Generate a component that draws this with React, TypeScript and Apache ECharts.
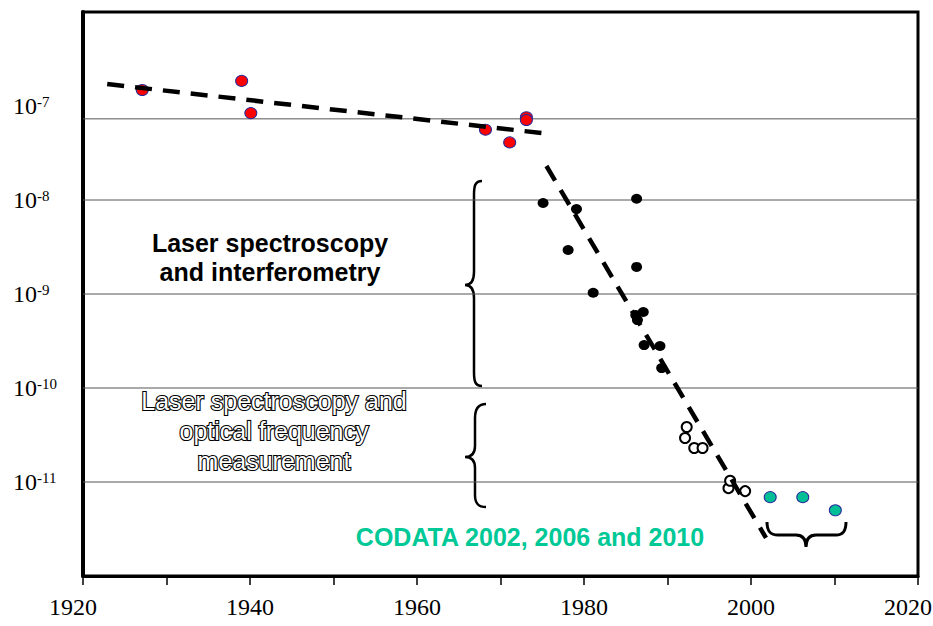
import React, { useEffect, useRef } from "react";
import * as echarts from "echarts";

// ---- data ----
const redYears = [1927.1, 1939.0, 1940.1, 1968.2, 1971.1, 1973.1, 1973.1];
const redValues = [1.48e-7, 1.85e-7, 8.4e-8, 5.6e-8, 4.1e-8, 7.6e-8, 7.1e-8];

const blackYears = [1975.1, 1979.1, 1986.3, 1978.1, 1986.3, 1981.1, 1986.2, 1987.1, 1986.4, 1987.2, 1989.1, 1989.3];
const blackValues = [9.3e-9, 8.0e-9, 1.03e-8, 2.94e-9, 1.94e-9, 1.03e-9, 5.98e-10, 6.44e-10, 5.28e-10, 2.86e-10, 2.8e-10, 1.63e-10];

const openYears = [1992.3, 1992.1, 1993.2, 1994.2, 1997.3, 1997.5, 1999.3];
const openValues = [3.85e-11, 2.94e-11, 2.3e-11, 2.3e-11, 8.6e-12, 1.03e-11, 8.0e-12];

const codataYears = [2002.3, 2006.2, 2010.1];
const codataValues = [6.9e-12, 6.9e-12, 5.0e-12];

const trend1Years = [1922.9, 1974.9];
const trend1Values = [1.71e-7, 5.16e-8];
const trend2Years = [1975.5, 2001.8];
const trend2Values = [2.3e-8, 2.54e-12];

const gridLineValues = [7.3e-8, 1e-8, 1e-9, 1e-10, 1e-11];
const xTickLabels = [1920, 1940, 1960, 1980, 2000, 2020];
const yLabelExponents = [-7, -8, -9, -10, -11];
const xMin = 1920;
const xMax = 2020;

const label1 = "Laser spectroscopy\nand interferometry";
const label2 = "Laser spectroscopy and\noptical frequency\nmeasurement";
const label3 = "CODATA 2002, 2006 and 2010";

// ---- brace shapes ----
const brace1 =
  "M482,181 C475,181 474,186 474,195 L474,272 C474,280 472,285 465,285 C472,285 474,290 474,298 L474,372 C474,381 475,386 482,386";
const brace2 =
  "M486,404 C478,404 475,409 475,418 L475,446 C475,453 472,457 465,457 C472,457 475,461 475,468 L475,495 C475,503 478,507 486,507";
const brace3 =
  "M767,522 C767,531 770,535 778,535 L796,535 C803,535 806,539 806,547 C806,539 809,535 816,535 L836,535 C843,535 846,531 846,522";

let registered = false;
function registerShapes() {
  if (registered) return;
  registered = true;
  echarts.graphic.registerShape("brace1", echarts.graphic.extendPath(brace1, {}));
  echarts.graphic.registerShape("brace2", echarts.graphic.extendPath(brace2, {}));
  echarts.graphic.registerShape("brace3", echarts.graphic.extendPath(brace3, {}));
}

const zip = (xs: number[], ys: number[]) => xs.map((x, i) => [x, ys[i]]);

export default function App() {
  const ref = useRef<HTMLDivElement>(null);
  useEffect(() => {
    document.body.style.margin = "0";
    registerShapes();
    const chart = echarts.init(ref.current!, null, { renderer: "svg" });
    const serif = "'Liberation Serif', 'Times New Roman', serif";
    const sans = "'Liberation Sans', Arial, sans-serif";
    const dash = { color: "#000", width: 4.5, type: [17, 11] as any, cap: "butt" as any };
    const gridSeries = gridLineValues.map((v) => ({
      type: "line",
      data: [
        [xMin, v],
        [xMax, v],
      ],
      symbol: "none",
      showSymbol: false,
      silent: true,
      lineStyle: { color: "#555", width: 1, type: "solid" },
      z: 1,
    }));
    chart.setOption({
      animation: false,
      grid: {
        left: 83,
        right: 15,
        top: 12,
        bottom: 50,
        show: true,
        borderColor: "#000",
        borderWidth: 3,
        containLabel: false,
        outerBoundsMode: "none",
      },
      xAxis: {
        type: "value",
        min: xMin,
        max: xMax,
        interval: 10,
        axisLine: { show: true, lineStyle: { color: "#000", width: 3 } },
        axisTick: { show: true, inside: false, length: 9, lineStyle: { color: "#000", width: 1.5 } },
        splitLine: { show: false },
        axisLabel: {
          show: true,
          showMinLabel: true,
          showMaxLabel: true,
          hideOverlap: false,
          margin: 19,
          fontFamily: serif,
          fontSize: 24,
          color: "#000",
          formatter: (v: number) => {
            const y = Math.round(v);
            if (!xTickLabels.includes(y)) return "";
            if (y === xMin) return `{e|${y}}`;
            if (y === xMax) return `{f|${y}}`;
            return String(y);
          },
          rich: {
            e: { fontFamily: serif, fontSize: 24, color: "#000", padding: [0, 20, 0, 0] },
            f: { fontFamily: serif, fontSize: 24, color: "#000", padding: [0, 20, 0, 0] },
          },
        },
      },
      yAxis: {
        type: "log",
        logBase: 10,
        min: 1e-12,
        max: 1e-6,
        axisLine: { show: true, lineStyle: { color: "#000", width: 4 } },
        axisTick: { show: false },
        splitLine: { show: false },
        axisLabel: {
          show: true,
          align: "left",
          margin: 70,
          formatter: (v: number) => {
            const e = Math.round(Math.log10(v));
            if (!yLabelExponents.includes(e)) return "";
            return `{b|10}{s|${e}}`;
          },
          rich: {
            b: { fontFamily: serif, fontSize: 24, color: "#000", verticalAlign: "bottom" },
            s: { fontFamily: serif, fontSize: 15, color: "#000", verticalAlign: "top" },
          },
        },
      },
      series: [
        ...gridSeries,
        {
          type: "scatter",
          data: zip(redYears, redValues),
          symbol: "circle",
          symbolSize: [12, 11],
          itemStyle: { color: "#ff0000", borderColor: "#2a2a9a", borderWidth: 1, opacity: 1 },
          z: 3,
        },
        {
          type: "scatter",
          data: zip(blackYears, blackValues),
          symbol: "circle",
          symbolSize: [11, 10],
          itemStyle: { color: "#000", opacity: 1 },
          z: 3,
        },
        {
          type: "scatter",
          data: zip(openYears, openValues),
          symbol: "circle",
          symbolSize: 10,
          itemStyle: { color: "#fff", borderColor: "#000", borderWidth: 2, opacity: 1 },
          z: 3,
        },
        {
          type: "scatter",
          data: zip(codataYears, codataValues),
          symbol: "circle",
          symbolSize: [12, 11],
          itemStyle: { color: "#00be96", borderColor: "#2a2a9a", borderWidth: 1, opacity: 1 },
          z: 3,
        },
        {
          type: "line",
          data: zip(trend1Years, trend1Values),
          showSymbol: false,
          symbol: "none",
          lineStyle: dash,
          z: 4,
        },
        {
          type: "line",
          data: zip(trend2Years, trend2Values),
          showSymbol: false,
          symbol: "none",
          lineStyle: dash,
          z: 4,
        },
      ],
      graphic: [
        {
          type: "text",
          x: 270,
          y: 257,
          style: {
            text: label1,
            fontFamily: sans,
            fontWeight: "bold",
            fontSize: 25,
            lineHeight: 29,
            fill: "#000",
            align: "center",
            verticalAlign: "middle",
            textAlign: "center",
            textVerticalAlign: "middle",
          },
        },
        {
          type: "text",
          x: 274,
          y: 431,
          style: {
            text: label2,
            fontFamily: sans,
            fontSize: 25,
            lineHeight: 30,
            fill: "#fff",
            stroke: "#000",
            lineWidth: 2.2,
            align: "center",
            verticalAlign: "middle",
            textAlign: "center",
            textVerticalAlign: "middle",
          },
        },
        {
          type: "text",
          x: 530,
          y: 537,
          style: {
            text: label3,
            fontFamily: sans,
            fontWeight: "bold",
            fontSize: 25,
            fill: "#00c896",
            align: "center",
            verticalAlign: "middle",
            textAlign: "center",
            textVerticalAlign: "middle",
          },
        },
        { type: "brace1", x: 0, y: 0, style: { stroke: "#000", fill: "none", lineWidth: 2.5 } },
        { type: "brace2", x: 0, y: 0, style: { stroke: "#000", fill: "none", lineWidth: 2.5 } },
        { type: "brace3", x: 0, y: 0, style: { stroke: "#000", fill: "none", lineWidth: 3 } },
      ],
    });
    return () => chart.dispose();
  }, []);
  return <div ref={ref} style={{ width: 933, height: 626, background: "#fff" }} />;
}
